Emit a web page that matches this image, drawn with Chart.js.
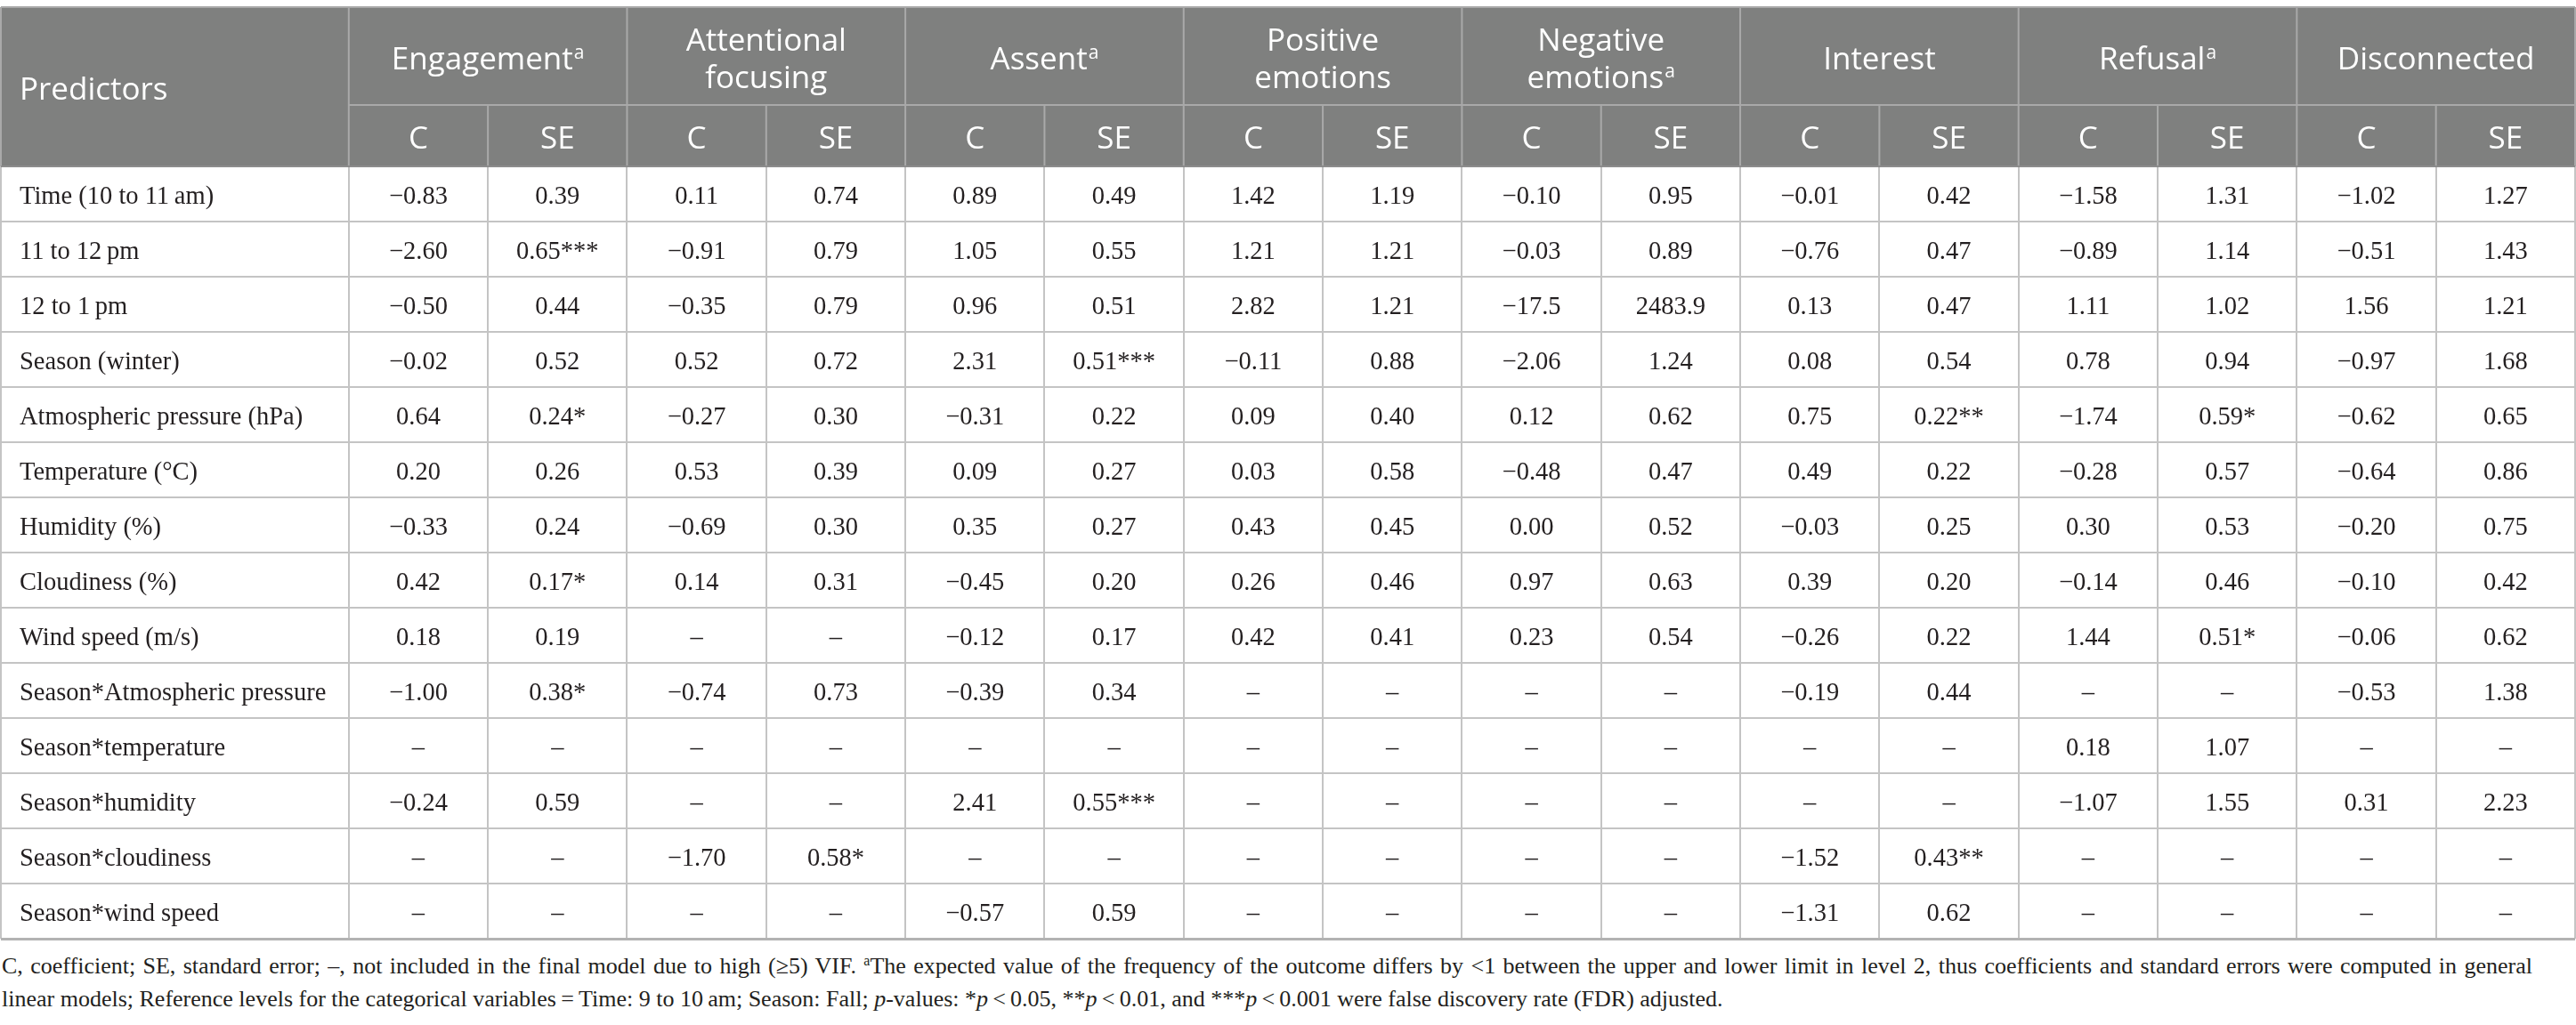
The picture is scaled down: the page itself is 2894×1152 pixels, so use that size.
<!DOCTYPE html>
<html>
<head>
<meta charset="utf-8">
<script src="https://cdn.jsdelivr.net/npm/chart.js@4.4.1/dist/chart.umd.min.js"></script>
<style>
  html, body { margin: 0; padding: 0; background: #fff; }
  #wrap { position: relative; width: 2894px; height: 1058px; }
  #note {
    font-family: 'Liberation Serif', 'Times New Roman', serif;
    font-size: 26px; line-height: 37px; color: #231f20;
    padding: 9px 0 0 2px; white-space: nowrap;
  }
  #note .full { display: block; width: 2843px; text-align: justify; text-align-last: justify; white-space: normal; }
  #note sup { font-size: 16px; vertical-align: 9px; line-height: 0; }
</style>
</head>
<body>
<div id="wrap"><canvas id="table"></canvas></div>
<div id="note">
  <span class="full">C, coefficient; SE, standard error; &ndash;, not included in the final model due to high (&ge;5) VIF. <sup>a</sup>The expected value of the frequency of the outcome differs by &lt;1 between the upper and lower limit in level 2, thus coefficients and standard errors were computed in general</span>
  linear models; Reference levels for the categorical variables&thinsp;=&thinsp;Time: 9 to 10&thinsp;am; Season: Fall; <i>p</i>-values: *<i>p</i>&thinsp;&lt;&thinsp;0.05, **<i>p</i>&thinsp;&lt;&thinsp;0.01, and ***<i>p</i>&thinsp;&lt;&thinsp;0.001 were false discovery rate (FDR) adjusted.
</div>
<script>
// Table of regression coefficients drawn on a Chart.js scatter chart:
// columns and rows are positions on the x / y scales, cells are points.

const predictors = [
  'Time (10 to 11\u2009am)', '11 to 12\u2009pm', '12 to 1\u2009pm', 'Season (winter)',
  'Atmospheric pressure (hPa)', 'Temperature (\u00b0C)', 'Humidity (%)', 'Cloudiness (%)',
  'Wind speed (m/s)', 'Season*Atmospheric pressure', 'Season*temperature',
  'Season*humidity', 'Season*cloudiness', 'Season*wind speed'
];
const outcomes = [
  ['Engagement'], ['Attentional', 'focusing'], ['Assent'], ['Positive', 'emotions'],
  ['Negative', 'emotions'], ['Interest'], ['Refusal'], ['Disconnected']
];
const outcomeFootnote = [true, false, true, false, true, false, true, false];
const subHeads = ['C', 'SE'];

const engagementC  = ['\u22120.83', '\u22122.60', '\u22120.50', '\u22120.02', '0.64', '0.20', '\u22120.33', '0.42', '0.18', '\u22121.00', '\u2013', '\u22120.24', '\u2013', '\u2013'];
const engagementSE = ['0.39', '0.65***', '0.44', '0.52', '0.24*', '0.26', '0.24', '0.17*', '0.19', '0.38*', '\u2013', '0.59', '\u2013', '\u2013'];
const attentionC   = ['0.11', '\u22120.91', '\u22120.35', '0.52', '\u22120.27', '0.53', '\u22120.69', '0.14', '\u2013', '\u22120.74', '\u2013', '\u2013', '\u22121.70', '\u2013'];
const attentionSE  = ['0.74', '0.79', '0.79', '0.72', '0.30', '0.39', '0.30', '0.31', '\u2013', '0.73', '\u2013', '\u2013', '0.58*', '\u2013'];
const assentC      = ['0.89', '1.05', '0.96', '2.31', '\u22120.31', '0.09', '0.35', '\u22120.45', '\u22120.12', '\u22120.39', '\u2013', '2.41', '\u2013', '\u22120.57'];
const assentSE     = ['0.49', '0.55', '0.51', '0.51***', '0.22', '0.27', '0.27', '0.20', '0.17', '0.34', '\u2013', '0.55***', '\u2013', '0.59'];
const positiveC    = ['1.42', '1.21', '2.82', '\u22120.11', '0.09', '0.03', '0.43', '0.26', '0.42', '\u2013', '\u2013', '\u2013', '\u2013', '\u2013'];
const positiveSE   = ['1.19', '1.21', '1.21', '0.88', '0.40', '0.58', '0.45', '0.46', '0.41', '\u2013', '\u2013', '\u2013', '\u2013', '\u2013'];
const negativeC    = ['\u22120.10', '\u22120.03', '\u221217.5', '\u22122.06', '0.12', '\u22120.48', '0.00', '0.97', '0.23', '\u2013', '\u2013', '\u2013', '\u2013', '\u2013'];
const negativeSE   = ['0.95', '0.89', '2483.9', '1.24', '0.62', '0.47', '0.52', '0.63', '0.54', '\u2013', '\u2013', '\u2013', '\u2013', '\u2013'];
const interestC    = ['\u22120.01', '\u22120.76', '0.13', '0.08', '0.75', '0.49', '\u22120.03', '0.39', '\u22120.26', '\u22120.19', '\u2013', '\u2013', '\u22121.52', '\u22121.31'];
const interestSE   = ['0.42', '0.47', '0.47', '0.54', '0.22**', '0.22', '0.25', '0.20', '0.22', '0.44', '\u2013', '\u2013', '0.43**', '0.62'];
const refusalC     = ['\u22121.58', '\u22120.89', '1.11', '0.78', '\u22121.74', '\u22120.28', '0.30', '\u22120.14', '1.44', '\u2013', '0.18', '\u22121.07', '\u2013', '\u2013'];
const refusalSE    = ['1.31', '1.14', '1.02', '0.94', '0.59*', '0.57', '0.53', '0.46', '0.51*', '\u2013', '1.07', '1.55', '\u2013', '\u2013'];
const disconnC     = ['\u22121.02', '\u22120.51', '1.56', '\u22120.97', '\u22120.62', '\u22120.64', '\u22120.20', '\u22120.10', '\u22120.06', '\u22120.53', '\u2013', '0.31', '\u2013', '\u2013'];
const disconnSE    = ['1.27', '1.43', '1.21', '1.68', '0.65', '0.86', '0.75', '0.42', '0.62', '1.38', '\u2013', '2.23', '\u2013', '\u2013'];

const valueColumns = [
  engagementC, engagementSE, attentionC, attentionSE, assentC, assentSE,
  positiveC, positiveSE, negativeC, negativeSE, interestC, interestSE,
  refusalC, refusalSE, disconnC, disconnSE
];

// scale units: one value column = 1 on x, one body row = 1 on y
const PRED_W = 2.5;
const HEAD1 = 110 / 62;
const HEAD = HEAD1 + 69 / 62;
const X_MAX = PRED_W + valueColumns.length;
const Y_MAX = HEAD + predictors.length;

const xEdges = [0];
for (let i = 0; i <= valueColumns.length; i++) xEdges.push(PRED_W + i);
const yEdges = [0, HEAD];
for (let r = 1; r <= predictors.length; r++) yEdges.push(HEAD + r);

const cells = [];
predictors.forEach((p, r) => {
  cells.push({ x: 0, y: HEAD + r + 0.5, text: p, align: 'left' });
  valueColumns.forEach((col, c) => {
    cells.push({ x: PRED_W + c + 0.5, y: HEAD + r + 0.5, text: col[r], align: 'center' });
  });
});

const BODY_FONT = '28.5px "Liberation Serif", serif';
const HEAD_FONT = '35px "Open Sans", sans-serif';
const SUP_FONT = '21px "Open Sans", sans-serif';

function headText(ctx, text, cx, baseline, mark) {
  ctx.font = HEAD_FONT;
  const w = ctx.measureText(text).width;
  let supW = 0;
  if (mark) { ctx.font = SUP_FONT; supW = ctx.measureText('a').width + 1; }
  const x0 = cx - (w + supW) / 2;
  ctx.font = HEAD_FONT;
  ctx.textAlign = 'left';
  ctx.fillText(text, x0, baseline);
  if (mark) {
    ctx.font = SUP_FONT;
    ctx.fillText('a', x0 + w + 1, baseline - 12);
  }
}

const tablePlugin = {
  id: 'tableCells',
  beforeDatasetsDraw(chart) {
    const { ctx, scales: { x, y } } = chart;
    const left = x.getPixelForValue(0), right = x.getPixelForValue(X_MAX);
    const top = y.getPixelForValue(0), mid = y.getPixelForValue(HEAD1), bot = y.getPixelForValue(HEAD);
    ctx.save();
    ctx.fillStyle = '#7f807f';
    ctx.fillRect(left, top, right - left, bot - top);
    ctx.strokeStyle = '#a9a9a9';
    ctx.lineWidth = 2;
    ctx.beginPath();
    ctx.moveTo(left, top); ctx.lineTo(right, top);
    ctx.moveTo(x.getPixelForValue(PRED_W), mid); ctx.lineTo(right, mid);
    ctx.moveTo(left, top); ctx.lineTo(left, bot);
    ctx.moveTo(right, top); ctx.lineTo(right, bot);
    outcomes.forEach((o, i) => {
      const gx = x.getPixelForValue(PRED_W + 2 * i);
      ctx.moveTo(gx, top); ctx.lineTo(gx, bot);
      const sx = x.getPixelForValue(PRED_W + 2 * i + 1);
      ctx.moveTo(sx, mid); ctx.lineTo(sx, bot);
    });
    ctx.stroke();
    ctx.strokeStyle = '#8c8c8c';
    ctx.beginPath();
    ctx.moveTo(left, bot); ctx.lineTo(right, bot);
    ctx.stroke();

    // header labels
    ctx.fillStyle = '#ffffff';
    ctx.textBaseline = 'alphabetic';
    ctx.font = HEAD_FONT;
    ctx.textAlign = 'left';
    ctx.fillText('Predictors', left + 21, y.getPixelForValue(HEAD / 2) + 14.5);
    const groupMid = y.getPixelForValue(HEAD1 / 2);
    const subMid = y.getPixelForValue((HEAD1 + HEAD) / 2);
    outcomes.forEach((lines, i) => {
      const cx = x.getPixelForValue(PRED_W + 2 * i + 1);
      lines.forEach((line, k) => {
        const last = k === lines.length - 1;
        const off = lines.length === 1 ? 0 : (k === 0 ? -21 : 21);
        headText(ctx, line, cx, groupMid + off + 14.5, last && outcomeFootnote[i]);
      });
      subHeads.forEach((s, j) => {
        headText(ctx, s, x.getPixelForValue(PRED_W + 2 * i + j + 0.5), subMid + 14.5, false);
      });
    });
    ctx.restore();
  },
  afterDatasetsDraw(chart) {
    const { ctx } = chart;
    const meta = chart.getDatasetMeta(0);
    const data = chart.data.datasets[0].data;
    ctx.save();
    ctx.fillStyle = '#231f20';
    ctx.font = BODY_FONT;
    ctx.textBaseline = 'alphabetic';
    meta.data.forEach((pt, i) => {
      const cell = data[i];
      ctx.textAlign = cell.align;
      const px = cell.align === 'left' ? pt.x + 21 : pt.x;
      ctx.fillText(cell.text, px, pt.y + 10.5);
    });
    ctx.restore();
  }
};

new Chart(document.getElementById('table'), {
  type: 'scatter',
  data: {
    datasets: [{ data: cells, pointRadius: 0, pointHoverRadius: 0 }]
  },
  options: {
    responsive: true,
    maintainAspectRatio: false,
    animation: false,
    events: [],
    layout: { padding: { top: 8, left: 1, right: 1, bottom: 3 } },
    plugins: { legend: { display: false }, tooltip: { enabled: false } },
    scales: {
      x: {
        type: 'linear', min: 0, max: X_MAX,
        afterBuildTicks: s => { s.ticks = xEdges.map(v => ({ value: v })); },
        ticks: { display: false },
        grid: { color: '#c4c4c4', lineWidth: 2, drawTicks: false },
        border: { display: false }
      },
      y: {
        type: 'linear', min: 0, max: Y_MAX, reverse: true,
        afterBuildTicks: s => { s.ticks = yEdges.map(v => ({ value: v })); },
        ticks: { display: false },
        grid: {
          color: ctx => ctx.index === yEdges.length - 1 ? '#b3b3b3' : '#c4c4c4',
          lineWidth: ctx => ctx.index === yEdges.length - 1 ? 3 : 2,
          drawTicks: false
        },
        border: { display: false }
      }
    }
  },
  plugins: [tablePlugin]
});
</script>
</body>
</html>
